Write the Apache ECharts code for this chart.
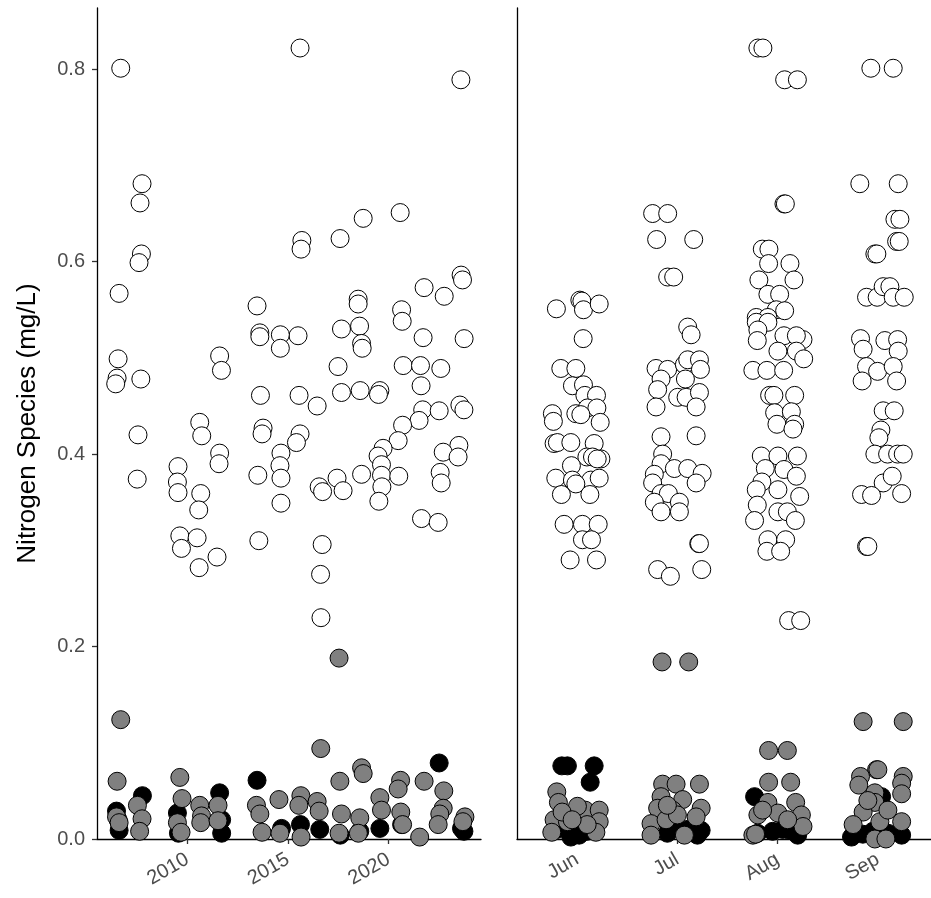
<!DOCTYPE html>
<html>
<head>
<meta charset="utf-8">
<script src="https://cdn.jsdelivr.net/npm/echarts@6/dist/echarts.min.js"></script>
<style>
  html, body { margin: 0; padding: 0; background: #fff; }
  #chart { width: 931px; height: 898px; }
</style>
</head>
<body>
<div id="chart"></div>
<script>
// Summer nitrogen samples: [decimal year, mg/L]
const totalByYear = [
  [2006.68,0.801],[2007.74,0.681],[2007.64,0.661],[2007.71,0.608],[2007.59,0.599],[2006.60,0.567],
  [2013.46,0.554],[2015.60,0.822],[2023.60,0.789],[2015.69,0.622],[2015.65,0.613],[2017.59,0.624],
  [2018.74,0.645],[2020.58,0.651],[2023.61,0.586],[2023.68,0.581],[2021.77,0.573],[2022.77,0.564],
  [2018.49,0.561],[2018.49,0.556],[2020.65,0.550],[2020.68,0.538],[2015.50,0.523],[2014.62,0.524],
  [2014.62,0.510],[2017.66,0.530],[2018.56,0.533],[2018.66,0.515],[2018.69,0.510],[2021.72,0.521],
  [2023.76,0.520],[2017.49,0.491],[2020.73,0.492],[2021.59,0.492],[2022.60,0.489],[2021.62,0.471],
  [2017.66,0.464],[2018.59,0.466],[2019.57,0.466],[2019.50,0.462],[2015.55,0.461],[2016.45,0.450],
  [2021.70,0.446],[2021.52,0.435],[2022.52,0.445],[2023.55,0.451],[2023.75,0.446],[2020.70,0.430],
  [2020.48,0.414],[2015.60,0.421],[2015.42,0.412],[2014.65,0.401],[2014.60,0.388],[2014.65,0.375],
  [2014.65,0.349],[2019.73,0.406],[2019.48,0.398],[2019.65,0.389],[2019.65,0.378],[2020.51,0.377],
  [2019.67,0.366],[2019.52,0.351],[2018.66,0.379],[2023.50,0.409],[2022.72,0.402],[2023.46,0.397],
  [2022.57,0.381],[2022.62,0.370],[2017.44,0.375],[2017.74,0.362],[2016.55,0.366],[2016.72,0.361],
  [2021.64,0.333],[2022.47,0.329],[2016.70,0.306],[2016.62,0.275],[2016.64,0.230],[2013.60,0.526],
  [2013.60,0.522],[2006.55,0.499],[2006.50,0.479],[2006.43,0.473],[2007.68,0.478],[2011.60,0.502],
  [2011.69,0.487],[2013.63,0.461],[2013.76,0.427],[2013.71,0.421],[2007.54,0.420],[2010.61,0.433],
  [2010.71,0.419],[2011.60,0.401],[2011.57,0.390],[2009.53,0.387],[2009.50,0.371],[2009.53,0.360],
  [2010.66,0.359],[2010.56,0.342],[2007.50,0.374],[2013.50,0.378],[2009.62,0.315],[2009.70,0.302],
  [2010.48,0.313],[2013.55,0.310],[2011.47,0.293],[2010.58,0.282]
];
const nitrateByYear = [
  [2006.68,0.124],[2006.50,0.060],[2009.62,0.064],[2007.51,0.035],[2009.73,0.042],[2014.55,0.041],
  [2013.43,0.035],[2013.60,0.026],[2010.61,0.035],[2011.52,0.035],[2010.70,0.024],[2010.66,0.017],
  [2011.52,0.019],[2006.47,0.023],[2006.60,0.017],[2009.50,0.017],[2009.68,0.007],[2007.74,0.021],
  [2007.62,0.008],[2013.71,0.007],[2017.54,0.188],[2016.63,0.094],[2018.66,0.074],[2018.74,0.068],
  [2017.58,0.060],[2021.77,0.060],[2020.60,0.061],[2020.48,0.052],[2022.75,0.050],[2015.64,0.045],
  [2015.54,0.035],[2016.45,0.039],[2016.55,0.029],[2019.57,0.043],[2019.65,0.030],[2020.61,0.028],
  [2022.72,0.032],[2022.55,0.026],[2017.66,0.026],[2018.57,0.022],[2023.80,0.023],[2022.47,0.015],
  [2017.54,0.006],[2021.55,0.002],[2015.65,0.002],[2023.70,0.018],[2014.60,0.006],[2020.70,0.015],
  [2018.50,0.006]
];
const ammoniaByYear = [
  [2013.46,0.061],[2007.76,0.045],[2011.60,0.048],[2006.47,0.029],[2006.60,0.009],[2009.50,0.027],
  [2011.70,0.006],[2022.52,0.079],[2015.62,0.015],[2016.58,0.010],[2019.57,0.011],[2020.65,0.015],
  [2023.63,0.011],[2018.57,0.008],[2014.68,0.011],[2009.55,0.006],[2011.70,0.020],[2006.55,0.020],
  [2023.75,0.008],[2017.60,0.004]
];

// Same samples grouped by month: [month position (Jun = 1) incl. jitter, mg/L]
const monthLabels = ['Jun', 'Jul', 'Aug', 'Sep'];
const totalByMonth = [
  [1.753,0.650],[1.903,0.650],[1.793,0.623],[2.163,0.623],[1.903,0.584],[1.963,0.584],
  [0.793,0.551],[1.027,0.560],[1.047,0.559],[1.063,0.550],[1.220,0.556],
  [2.803,0.822],[2.853,0.822],[3.070,0.789],[3.197,0.789],
  [3.930,0.801],[4.153,0.801],[3.820,0.681],[4.203,0.681],
  [3.063,0.660],[3.077,0.660],
  [4.170,0.644],[4.220,0.644],[4.187,0.621],[4.213,0.621],[3.970,0.608],[3.990,0.608],
  [2.847,0.613],[2.913,0.613],[2.910,0.598],[3.123,0.598],[2.813,0.581],[3.163,0.581],[2.903,0.566],
  [3.020,0.566],[2.987,0.550],[3.070,0.549],[2.787,0.542],[2.903,0.542],
  [3.887,0.563],[3.993,0.563],[4.053,0.574],[4.120,0.574],[4.153,0.563],[4.263,0.563],
  [1.060,0.520],[2.103,0.532],[2.137,0.524],
  [0.837,0.489],[0.987,0.489],[0.953,0.471],[1.063,0.472],[1.077,0.461],[1.193,0.461],[0.753,0.442],
  [0.763,0.434],[0.987,0.442],[1.103,0.448],[1.197,0.448],[1.230,0.433],[0.770,0.411],[0.803,0.412],
  [0.937,0.412],[1.170,0.411],[1.097,0.397],[1.153,0.397],[1.237,0.395],[0.943,0.388],[0.787,0.375],
  [0.953,0.373],[1.137,0.373],[1.220,0.375],[0.987,0.369],[0.843,0.358],[1.127,0.358],[0.870,0.327],
  [1.053,0.327],[1.210,0.327],[1.053,0.311],[1.143,0.311],[0.930,0.290],[1.193,0.290],[1.037,0.441],
  [1.200,0.395],
  [1.787,0.489],[1.903,0.488],[2.070,0.493],[2.103,0.498],[2.220,0.498],[2.230,0.488],[1.837,0.478],
  [2.080,0.478],[1.803,0.467],[2.003,0.459],[2.087,0.459],[2.220,0.464],[1.787,0.449],[2.187,0.449],
  [1.837,0.418],[2.187,0.419],[1.853,0.400],[1.837,0.390],[1.770,0.379],[1.970,0.385],[2.103,0.385],
  [2.247,0.380],[2.187,0.370],[1.753,0.370],[1.837,0.359],[1.910,0.359],[1.770,0.350],[2.020,0.350],
  [1.837,0.340],[2.020,0.340],[2.213,0.307],[2.220,0.307],[1.803,0.280],[1.930,0.273],[2.243,0.280],
  [2.787,0.537],[2.903,0.537],[2.803,0.529],[2.797,0.518],[3.063,0.523],[3.253,0.519],[3.187,0.523],
  [3.003,0.507],[3.187,0.507],[3.260,0.499],[2.753,0.487],[2.893,0.487],[3.060,0.487],[2.920,0.461],
  [2.963,0.461],[3.170,0.461],[2.970,0.443],[3.137,0.444],[2.993,0.431],[3.170,0.431],[3.153,0.426],
  [2.837,0.398],[3.003,0.398],[3.197,0.398],[2.877,0.385],[3.063,0.384],[3.187,0.377],[2.843,0.371],
  [2.787,0.363],[3.003,0.363],[3.220,0.356],[2.797,0.347],[3.003,0.340],[3.097,0.340],[2.770,0.331],
  [3.177,0.331],[2.903,0.311],[3.080,0.311],[2.893,0.299],[3.030,0.299],[3.110,0.227],[3.230,0.227],
  [3.827,0.520],[3.853,0.509],[4.070,0.518],[4.197,0.519],[4.203,0.507],[3.887,0.491],[3.997,0.486],
  [4.153,0.491],[3.843,0.476],[4.187,0.476],[4.053,0.445],[4.163,0.445],[4.030,0.425],[4.010,0.417],
  [3.970,0.400],[4.097,0.400],[4.197,0.400],[4.253,0.400],[4.053,0.370],[4.143,0.377],[3.837,0.358],
  [3.937,0.357],[4.237,0.359],[3.887,0.304],[3.900,0.304]
];
const nitrateByMonth = [
  [0.797,0.049],[0.813,0.038],[1.080,0.030],[1.220,0.030],[1.003,0.034],[0.770,0.020],[0.903,0.018],
  [1.220,0.018],[0.747,0.007],[1.187,0.007],[0.850,0.028],[1.100,0.015],[0.950,0.020],
  [1.847,0.184],[2.113,0.184],[1.853,0.057],[1.987,0.057],[2.220,0.057],[1.837,0.044],[2.053,0.041],
  [1.803,0.032],[1.953,0.030],[2.237,0.032],[2.187,0.023],[1.737,0.016],[1.887,0.020],[1.737,0.004],
  [2.070,0.004],[2.000,0.025],[1.900,0.035],
  [2.910,0.092],[3.097,0.092],[2.910,0.059],[3.130,0.059],[2.903,0.038],[3.180,0.038],[2.803,0.025],
  [3.003,0.027],[3.237,0.025],[2.753,0.004],[3.253,0.013],[2.850,0.030],[3.100,0.020],[2.780,0.005],
  [3.853,0.122],[4.253,0.122],[3.987,0.072],[4.000,0.072],[3.827,0.065],[4.253,0.065],[3.810,0.056],
  [4.237,0.058],[3.970,0.048],[4.237,0.047],[3.970,0.038],[3.853,0.028],[4.020,0.018],[4.237,0.018],
  [3.753,0.015],[3.970,0.000],[4.080,0.000],[4.100,0.030],[3.900,0.040]
];
const ammoniaByMonth = [
  [0.847,0.076],[0.903,0.076],[1.170,0.076],[1.130,0.059],[0.937,0.002],[1.020,0.004],[0.800,0.010],
  [1.100,0.008],[1.000,0.012],
  [1.970,0.013],[2.237,0.009],[1.900,0.006],[2.100,0.010],[2.200,0.004],
  [2.770,0.044],[3.120,0.009],[2.950,0.008],[3.050,0.010],[2.800,0.006],[3.200,0.004],
  [4.037,0.044],[3.737,0.002],[4.237,0.004],[3.950,0.008],[4.100,0.006],[3.850,0.005]
];

const yearTicks = [2010, 2015, 2020];
const valueTicks = [0, 0.2, 0.4, 0.6, 0.8];
const monthTicks = [1, 2, 3, 4];

const FONT = "'Liberation Sans', Arial, sans-serif";
const AXIS_TEXT = '#4d4d4d';
const TICK = '#333333';
const Y_MAX = 0.8636;

function pointSeries(data, xi, fill) {
  return {
    type: 'scatter',
    xAxisIndex: xi,
    yAxisIndex: xi,
    data: data,
    symbol: 'circle',
    symbolSize: 18,
    itemStyle: { color: fill, borderColor: '#000', borderWidth: 1, opacity: 1 },
    emphasis: { disabled: true },
    silent: true
  };
}

const axisLine = { show: true, lineStyle: { color: '#000', width: 1.3 } };
const xLabel = { rotate: 30, margin: 19, fontSize: 20, color: AXIS_TEXT, fontFamily: FONT };

const chart = echarts.init(document.getElementById('chart'), null, { renderer: 'canvas' });
chart.setOption({
  animation: false,
  backgroundColor: '#fff',
  textStyle: { fontFamily: FONT },
  grid: [
    { left: 97, top: 8, width: 384, height: 831 },
    { left: 517, top: 8, width: 414, height: 831 }
  ],
  xAxis: [
    {
      type: 'value', gridIndex: 0, min: 2005.5, max: 2024.6,
      axisLine: axisLine,
      axisTick: { show: true, length: 5, customValues: yearTicks, lineStyle: { color: TICK, width: 1.3 } },
      axisLabel: Object.assign({ customValues: yearTicks, formatter: v => String(v) }, xLabel),
      splitLine: { show: false }
    },
    {
      type: 'value', gridIndex: 1, min: 0.4, max: 4.53,
      axisLine: axisLine,
      axisTick: { show: true, length: 5, customValues: monthTicks, lineStyle: { color: TICK, width: 1.3 } },
      axisLabel: Object.assign({ customValues: monthTicks, formatter: v => monthLabels[Math.round(v) - 1] }, xLabel),
      splitLine: { show: false }
    }
  ],
  yAxis: [
    {
      type: 'value', gridIndex: 0, min: 0, max: Y_MAX,
      name: 'Nitrogen Species (mg/L)', nameLocation: 'middle', nameGap: 56,
      nameTextStyle: { fontSize: 26, color: '#000', fontFamily: FONT },
      axisLine: axisLine,
      axisTick: { show: true, length: 5, customValues: valueTicks, lineStyle: { color: TICK, width: 1.3 } },
      axisLabel: { customValues: valueTicks, margin: 12, fontSize: 20, color: AXIS_TEXT, fontFamily: FONT,
                   formatter: v => v.toFixed(1) },
      splitLine: { show: false }
    },
    {
      type: 'value', gridIndex: 1, min: 0, max: Y_MAX,
      axisLine: axisLine,
      axisTick: { show: false },
      axisLabel: { show: false },
      splitLine: { show: false }
    }
  ],
  series: [
    pointSeries(totalByYear, 0, '#ffffff'),
    pointSeries(ammoniaByYear, 0, '#000000'),
    pointSeries(nitrateByYear, 0, '#808080'),
    pointSeries(totalByMonth, 1, '#ffffff'),
    pointSeries(ammoniaByMonth, 1, '#000000'),
    pointSeries(nitrateByMonth, 1, '#808080')
  ]
});
</script>
</body>
</html>
